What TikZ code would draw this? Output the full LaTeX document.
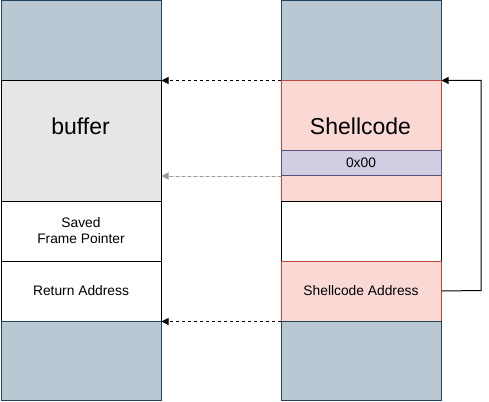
\documentclass[tikz,border=0pt]{standalone}
\usepackage{fontspec}
\setmainfont{Liberation Sans}
\usetikzlibrary{arrows.meta}
\definecolor{stackfill}{HTML}{BAC8D3}
\definecolor{stackdraw}{HTML}{23445D}
\definecolor{buffill}{HTML}{E6E6E6}
\definecolor{pinkfill}{HTML}{FAD9D5}
\definecolor{pinkdraw}{HTML}{C0463E}
\definecolor{lavfill}{HTML}{D0CEE2}
\definecolor{lavdraw}{HTML}{56517E}
\tikzset{
  cell/.style={draw, line width=1pt, minimum width=160pt, inner sep=0pt, anchor=north west, align=center, font=\fontsize{13.8}{16}\selectfont},
  stackblk/.style={cell, fill=stackfill, draw=stackdraw, minimum height=80pt},
  bufblk/.style={cell, fill=buffill, draw=black, minimum height=120pt},
  plainblk/.style={cell, fill=white, draw=black, minimum height=60pt},
  pinkblk/.style={cell, fill=pinkfill, draw=pinkdraw},
  lavblk/.style={cell, fill=lavfill, draw=lavdraw, minimum height=25pt},
  bigtext/.style={font=\fontsize{23}{27}\selectfont, inner sep=0pt},
  darr/.style={line width=1pt, dash pattern=on 3pt off 3pt, -{Triangle[length=7pt,width=7pt]}},
  sarr/.style={line width=1pt, -{Triangle[length=7pt,width=7pt]}}
}
\begin{document}
\begin{tikzpicture}[x=1pt,y=-1pt]
\useasboundingbox (0,0) rectangle (489,401);
% left column
\node[stackblk] (ltop) at (0.5,0.5) {};
\node[bufblk] (buf) at (0.5,80.5) {};
\node[bigtext] (buftxt) at (80.5,126) {buffer};
\node[plainblk] (sfp) at (0.5,200.5) {Saved\\Frame Pointer};
\node[plainblk] (ret) at (0.5,260.5) {Return Address};
\node[stackblk, minimum height=79pt] (lbot) at (0.5,320.5) {};
% right column
\node[stackblk] (rtop) at (280.5,0.5) {};
\node[pinkblk, minimum height=120pt] (shell) at (280.5,80.5) {};
\node[bigtext] (shelltxt) at (360.5,126) {Shellcode};
\node[lavblk] (zero) at (280.5,150) {0x00};
\node[plainblk] (rwhite) at (280.5,200.5) {};
\node[pinkblk, minimum height=60pt] (saddr) at (280.5,260.5) {Shellcode Address};
\node[stackblk, minimum height=79pt] (rbot) at (280.5,320.5) {};
% dashed arrows
\draw[darr] (shell.north west) -- (buf.north east);
\draw[darr, draw=gray!80, fill=black] (zero.south west) -- (zero.south west -| buf.east);
\draw[darr] (saddr.south west) -- (ret.south east);
% loop arrow
\coordinate (c1) at (481,290.5);
\coordinate (c2) at (481,80.5);
\draw[sarr] (saddr.east) -- (c1) -- (c2) -- (shell.north east);
\end{tikzpicture}
\end{document}
